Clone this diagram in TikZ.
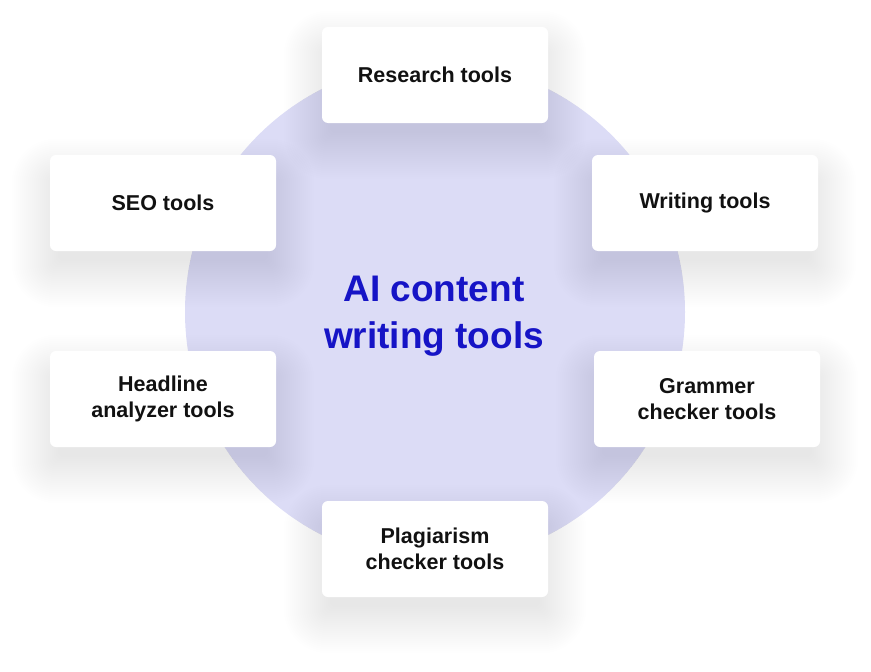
\documentclass[tikz,border=0pt]{standalone}
\usepackage{fontspec}
\setmainfont{Liberation Sans}
\usetikzlibrary{calc}
\pgfdeclarelayer{bg}
\pgfdeclarelayer{shadowlayer}
\pgfsetlayers{bg,shadowlayer,main}
\definecolor{lav}{RGB}{220,220,246}
\definecolor{titleblue}{RGB}{22,20,198}
\definecolor{boxtext}{RGB}{17,17,17}
\tikzset{
  toolbox/.style={fill=white, rounded corners=6pt, minimum width=226pt, minimum height=96pt,
    inner sep=0pt, align=center, text=boxtext,
    font=\fontsize{21.5}{25.5}\selectfont\bfseries},
  hub/.style={circle, fill=lav, minimum size=500pt, inner sep=0pt},
  hubtext/.style={align=center, text=titleblue, font=\fontsize{37}{47}\selectfont\bfseries},
  shadowlayerfill/.style={fill=black, fill opacity=0.0055}
}
\begin{document}
\begin{tikzpicture}[x=1pt,y=-1pt]
\useasboundingbox (0,0) rectangle (871,672);
\begin{pgfonlayer}{bg}
\node[hub] (circ) at (435,312) {};
\end{pgfonlayer}
\node[hubtext] (title) at (434,316) {AI content\\writing tools};
\node[toolbox] (research) at (435,75) {Research tools};
\node[toolbox] (seo) at (163,203) {SEO tools};
\node[toolbox] (writing) at (705,203) {Writing tools};
\node[toolbox] (headline) at (163,399) {Headline\\analyzer tools};
\node[toolbox] (grammer) at (707,399) {Grammer\\checker tools};
\node[toolbox] (plag) at (435,549) {Plagiarism\\checker tools};
\begin{pgfonlayer}{shadowlayer}
\foreach \n in {research,seo,writing,headline,grammer,plag}{
  \foreach \i in {1,...,24}{
    \pgfmathsetmacro\e{2*\i-10}
    \fill[shadowlayerfill, rounded corners={6+max(\e,0)}]
      ($(\n.north west)+(-\e,-\e+22)$) rectangle ($(\n.south east)+(\e,\e+18)$);
  }
}
\end{pgfonlayer}
\end{tikzpicture}
\end{document}
